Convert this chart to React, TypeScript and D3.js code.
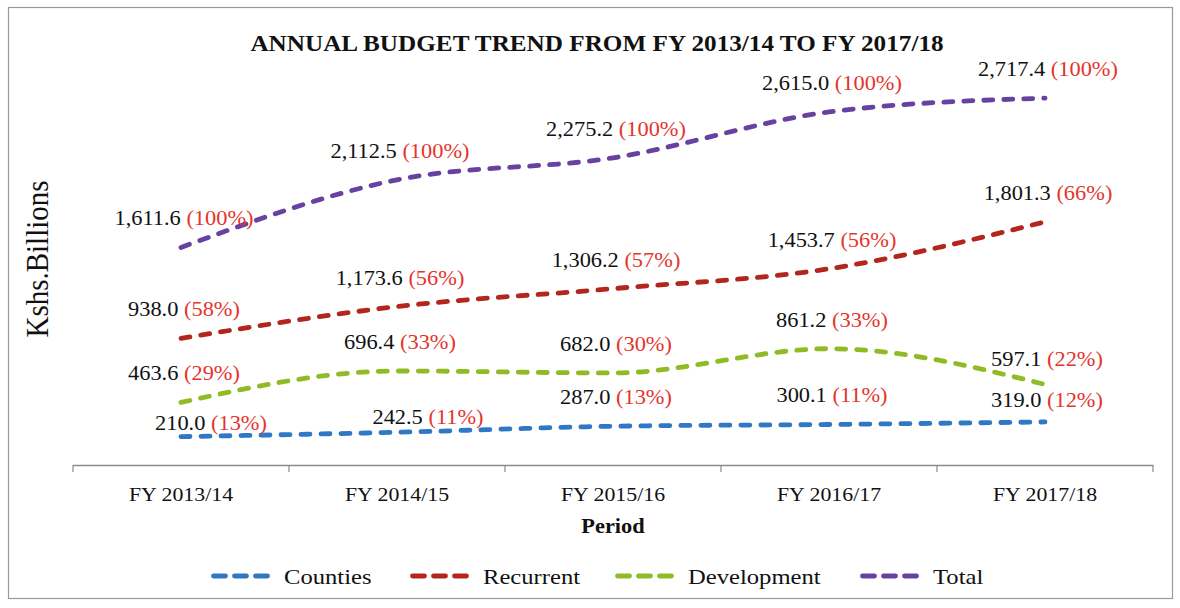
import React from "react";
import * as d3 from "d3";

const categories = ["FY 2013/14", "FY 2014/15", "FY 2015/16", "FY 2016/17", "FY 2017/18"];
const counties = [210.0, 242.5, 287.0, 300.1, 319.0];
const countiesPct = [13, 11, 13, 11, 12];
const recurrent = [938.0, 1173.6, 1306.2, 1453.7, 1801.3];
const recurrentPct = [58, 56, 57, 56, 66];
const development = [463.6, 696.4, 682.0, 861.2, 597.1];
const developmentPct = [29, 33, 30, 33, 22];
const total = [1611.6, 2112.5, 2275.2, 2615.0, 2717.4];
const totalPct = [100, 100, 100, 100, 100];
const seriesNames = ["Counties", "Recurrent", "Development", "Total"];

const W = 1180;
const H = 608;
const SX = 1.12; // horizontal stretch of text in the reference
const FONT = "'Liberation Serif', 'Times New Roman', serif";

const COLORS: Record<string, string> = {
  Counties: "#2f78c6",
  Recurrent: "#b3261e",
  Development: "#8fbc24",
  Total: "#6742a0",
};
const PCT_COLOR = "#e4352d";

// label nudges (layout, not data): [dx, dy to baseline]
const DEFAULT_NUDGE: [number, number] = [3, -22];
const NUDGES: Record<string, Record<number, [number, number]>> = {
  Counties: { 0: [30, -7], 1: [31, -8], 4: [2, -15] },
  Development: { 4: [2, -18] },
  Recurrent: {},
  Total: {},
};

const LEGEND_X = [211, 410, 615, 860];

function STxt(props: {
  x: number;
  y: number;
  size: number;
  anchor?: string;
  weight?: string;
  children: React.ReactNode;
  fill?: string;
}) {
  const { x, y, size, anchor = "start", weight = "normal", children, fill = "#111" } = props;
  return (
    <text
      transform={`translate(${x},${y}) scale(${SX},1)`}
      fontSize={size}
      fontFamily={FONT}
      textAnchor={anchor}
      fontWeight={weight}
      fill={fill}
    >
      {children}
    </text>
  );
}

export default function App() {
  const series = [
    { name: "Counties", values: counties, pct: countiesPct },
    { name: "Recurrent", values: recurrent, pct: recurrentPct },
    { name: "Development", values: development, pct: developmentPct },
    { name: "Total", values: total, pct: totalPct },
  ];

  const x = d3.scaleBand<string>().domain(categories).range([73, 1153]).paddingInner(0).paddingOuter(0);
  const y = d3.scaleLinear().domain([0, 3000]).range([465, 60]);
  const cx = (c: string) => (x(c) as number) + x.bandwidth() / 2;

  const line = d3
    .line<number>()
    .x((_, i) => cx(categories[i]))
    .y((v) => y(v))
    .curve(d3.curveMonotoneX);

  const tickXs = [...categories.map((c) => x(c) as number), 1153];

  return (
    <svg
      width={W}
      height={H}
      style={{ position: "absolute", left: 0, top: 0, background: "#fff" }}
    >
      <rect x={0} y={0} width={W} height={H} fill="#fff" />
      <rect x={8.5} y={7.5} width={1164} height={591} fill="none" stroke="#9a9a9a" strokeWidth={1.2} />

      <STxt x={597} y={51} size={22.5} anchor="middle" weight="bold">
        ANNUAL BUDGET TREND FROM FY 2013/14 TO FY 2017/18
      </STxt>

      <text
        transform={`translate(48,259) scale(${SX},1) rotate(-90)`}
        fontSize={29}
        fontFamily={FONT}
        textAnchor="middle"
        fill="#111"
      >
        Kshs.Billions
      </text>

      {/* x axis */}
      <line x1={73} x2={1153} y1={465.5} y2={465.5} stroke="#8a8a8a" strokeWidth={1.5} />
      {tickXs.map((t, i) => (
        <line key={i} x1={t} x2={t} y1={465} y2={472} stroke="#8a8a8a" strokeWidth={1.2} />
      ))}
      {categories.map((c) => (
        <STxt key={c} x={cx(c)} y={501} size={19.5} anchor="middle">
          {c}
        </STxt>
      ))}
      <STxt x={613} y={533} size={20} anchor="middle" weight="bold">
        Period
      </STxt>

      {/* lines */}
      {series.map((s) => (
        <path
          key={s.name}
          d={line(s.values) || ""}
          fill="none"
          stroke={COLORS[s.name]}
          strokeWidth={4.8}
          strokeLinecap="round"
          strokeDasharray="9 11"
        />
      ))}

      {/* labels */}
      {series.map((s) =>
        s.values.map((v, i) => {
          const n = NUDGES[s.name][i] || DEFAULT_NUDGE;
          return (
            <STxt key={s.name + i} x={cx(categories[i]) + n[0]} y={y(v) + n[1]} size={20} anchor="middle">
              <tspan fill="#111">{d3.format(",.1f")(v)} </tspan>
              <tspan fill={PCT_COLOR}>({s.pct[i]}%)</tspan>
            </STxt>
          );
        })
      )}

      {/* legend */}
      {seriesNames.map((name, i) => (
        <g key={name}>
          <line
            x1={LEGEND_X[i] + 2.5}
            x2={LEGEND_X[i] + 58}
            y1={576}
            y2={576}
            stroke={COLORS[name]}
            strokeWidth={4.8}
            strokeLinecap="round"
            strokeDasharray="12 9"
          />
          <STxt x={LEGEND_X[i] + 73} y={584} size={22}>
            {name}
          </STxt>
        </g>
      ))}
    </svg>
  );
}
